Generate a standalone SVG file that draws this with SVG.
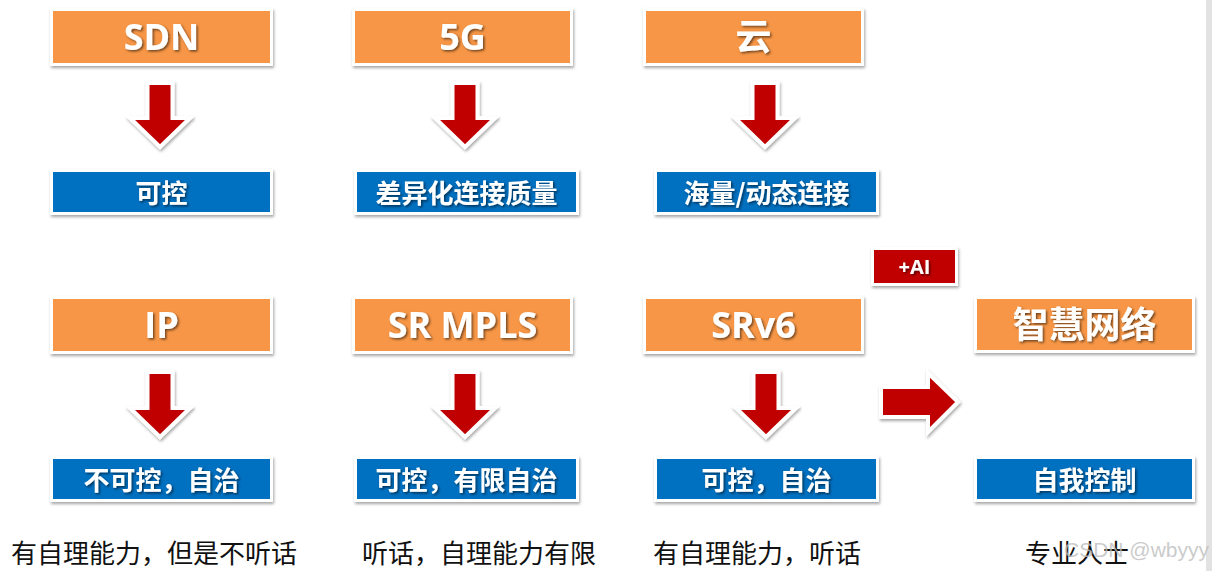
<svg xmlns="http://www.w3.org/2000/svg" width="1212" height="571" viewBox="0 0 1212 571">
<defs>
<filter id="boxsh" x="-10%" y="-20%" width="120%" height="150%">
<feDropShadow dx="1" dy="2" stdDeviation="1.5" flood-color="#000" flood-opacity="0.35"/>
</filter>
<filter id="txtsh" x="-10%" y="-20%" width="120%" height="150%">
<feDropShadow dx="1.5" dy="1.5" stdDeviation="0.8" flood-color="#000" flood-opacity="0.55"/>
</filter>
<style>
.frame{fill:#fff;filter:url(#boxsh)}
.org{fill:#F79646}
.blu{fill:#0070C0}
.red{fill:#C00000}
.ttl{font-family:"Open Sans","Noto Sans CJK SC",sans-serif;font-weight:bold;font-size:36px;fill:#fff;text-anchor:middle;filter:url(#txtsh)}
.lbl{font-family:"Noto Sans CJK SC",sans-serif;font-weight:bold;font-size:26px;fill:#fff;text-anchor:middle;filter:url(#txtsh)}
.ai{font-family:"Open Sans","Noto Sans CJK SC",sans-serif;font-weight:bold;font-size:20px;fill:#fff;text-anchor:middle;filter:url(#txtsh)}
.note{font-family:"Noto Sans CJK SC",sans-serif;font-size:26px;fill:#111;text-anchor:middle}
.arr{fill:#C00000;stroke:#fff;stroke-width:4;stroke-linejoin:miter;filter:url(#boxsh)}
</style>
</defs>
<rect width="1212" height="571" fill="#fff"/>
<rect x="1206" y="0" width="6" height="571" fill="#e2e2e2"/>

<g id="sdn"><rect class="frame" x="50" y="8" width="223" height="58"/><rect class="org" x="53" y="11" width="217" height="52"/><text class="ttl" x="161.5" y="50">SDN</text></g>
<g id="g5"><rect class="frame" x="352" y="8" width="221" height="58"/><rect class="org" x="355" y="11" width="215" height="52"/><text class="ttl" x="462.5" y="50">5G</text></g>
<g id="cloud"><rect class="frame" x="643" y="8" width="221" height="58"/><rect class="org" x="646" y="11" width="215" height="52"/><text class="ttl" x="753.5" y="50">云</text></g>

<g id="ctrl"><rect class="frame" x="50" y="169" width="223" height="46"/><rect class="blu" x="53" y="172" width="217" height="40"/><text class="lbl" x="161.5" y="203">可控</text></g>
<g id="diff"><rect class="frame" x="354" y="169" width="225" height="46"/><rect class="blu" x="357" y="172" width="219" height="40"/><text class="lbl" x="466.5" y="203">差异化连接质量</text></g>
<g id="mass"><rect class="frame" x="654" y="169" width="225" height="46"/><rect class="blu" x="657" y="172" width="219" height="40"/><text class="lbl" x="766.5" y="203">海量/动态连接</text></g>

<g id="ip"><rect class="frame" x="50" y="296" width="223" height="58"/><rect class="org" x="53" y="299" width="217" height="52"/><text class="ttl" x="161.5" y="338">IP</text></g>
<g id="srmpls"><rect class="frame" x="352" y="296" width="221" height="58"/><rect class="org" x="355" y="299" width="215" height="52"/><text class="ttl" x="462.5" y="338">SR MPLS</text></g>
<g id="srv6"><rect class="frame" x="643" y="296" width="221" height="58"/><rect class="org" x="646" y="299" width="215" height="52"/><text class="ttl" x="753.5" y="338">SRv6</text></g>
<g id="smart"><rect class="frame" x="974" y="296" width="221" height="57"/><rect class="org" x="977" y="299" width="215" height="51"/><text class="ttl" x="1084.5" y="338">智慧网络</text></g>

<g id="ai"><rect class="frame" x="871" y="247" width="87" height="39"/><rect class="red" x="874" y="250" width="81" height="33"/><text class="ai" x="914.5" y="274">+AI</text></g>

<g id="noctrl"><rect class="frame" x="50" y="456" width="223" height="46"/><rect class="blu" x="53" y="459" width="217" height="40"/><text class="lbl" x="161.5" y="490">不可控，自治</text></g>
<g id="limited"><rect class="frame" x="354" y="456" width="225" height="46"/><rect class="blu" x="357" y="459" width="219" height="40"/><text class="lbl" x="466.5" y="490">可控，有限自治</text></g>
<g id="ctrlauto"><rect class="frame" x="654" y="456" width="225" height="46"/><rect class="blu" x="657" y="459" width="219" height="40"/><text class="lbl" x="766.5" y="490">可控，自治</text></g>
<g id="self"><rect class="frame" x="974" y="456" width="221" height="46"/><rect class="blu" x="977" y="459" width="215" height="40"/><text class="lbl" x="1084.5" y="490">自我控制</text></g>

<g id="connectors">
<path class="arr" d="M147.5,83 H172.5 V118 H190 L160,147 L130,118 H147.5 Z"/>
<path class="arr" d="M452.5,83 H477.5 V118 H495 L465,147 L435,118 H452.5 Z"/>
<path class="arr" d="M752.5,83 H777.5 V118 H795 L765,147 L735,118 H752.5 Z"/>
<path class="arr" d="M147.5,372 H172.5 V408 H190 L160,437 L130,408 H147.5 Z"/>
<path class="arr" d="M452.5,372 H477.5 V408 H495 L465,437 L435,408 H452.5 Z"/>
<path class="arr" d="M753.5,372 H778.5 V408 H796 L766,437 L736,408 H753.5 Z"/>
<path class="arr" d="M881,387 H928 V373 L958,402 L928,432 V417 H881 Z"/>
</g>

<g id="notes">
<text class="note" x="154" y="563">有自理能力，但是不听话</text>
<text class="note" x="479" y="563">听话，自理能力有限</text>
<text class="note" x="757" y="563">有自理能力，听话</text>
<text class="note" x="1077" y="563">专业人士</text>
</g>
<text x="1209" y="557" font-family="Liberation Sans, sans-serif" font-size="21" fill="#bdbdbd" fill-opacity="0.8" text-anchor="end">CSDN @wbyyy</text>
</svg>
